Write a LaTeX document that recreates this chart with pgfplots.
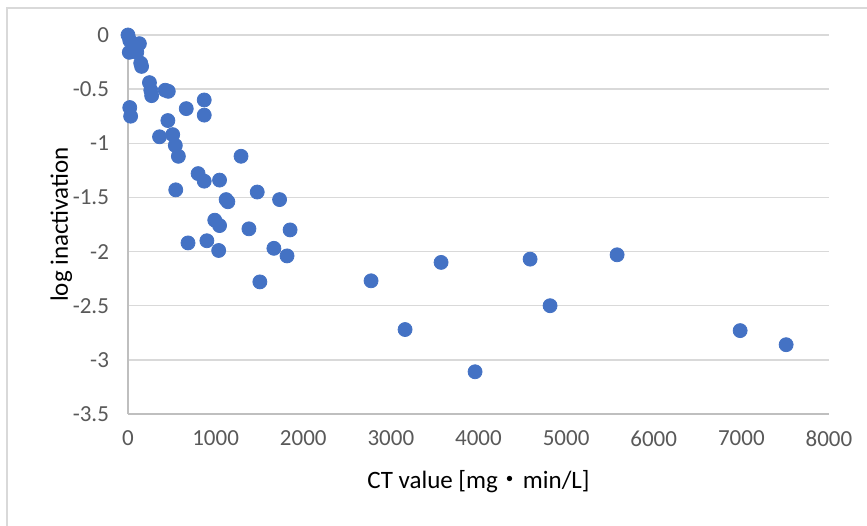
\documentclass[border=0pt]{standalone}
\usepackage{fontspec}
\setmainfont{Carlito}
\newfontfamily\cjk{Noto Sans CJK JP}
\usepackage{pgfplots}
\pgfplotsset{compat=1.18}
\definecolor{dot}{HTML}{4472C4}
\definecolor{grd}{HTML}{D9D9D9}
\definecolor{axl}{HTML}{BFBFBF}
\definecolor{txt}{HTML}{595959}
\newcommand{\tickfont}{\fontsize{11.5pt}{13pt}\selectfont}
\newcommand{\labfont}{\fontsize{12.5pt}{15pt}\selectfont}

\begin{document}
\tickfont
\begin{tikzpicture}
\begin{axis}[
    scale only axis,
    width=350.5pt, height=189.5pt,
    xmin=0, xmax=8000, ymin=-3.5, ymax=0,
    xtick={0,1000,...,8000},
    ytick={-3.5,-3,...,0},
    axis lines*=left,
    axis line style={axl, line width=0.7pt},
    ymajorgrids,
    grid style={grd, line width=0.7pt},
    major tick length=0pt,
    tick label style={text=txt},
    xticklabel={\tickfont\pgfmathprintnumber{\tick}},
    yticklabel={\tickfont\pgfmathprintnumber{\tick}},
    yticklabel style={xshift=-5.5pt},
    xticklabel style={yshift=-4.5pt},
    /pgf/number format/assume math mode=true,
    /pgf/number format/set thousands separator={},
    label style={text=txt},
    xlabel={\labfont CT value [mg{\cjk ・}min/L]},
    ylabel={\labfont log inactivation},
    every axis x label/.style={at={(axis description cs:0.5,-0.179)}, anchor=center},
    every axis y label/.style={at={(axis description cs:-0.095,0.5)}, rotate=90, anchor=center},
    clip=false,
]
\addplot[only marks, mark=*, mark size=3.5pt, mark options={fill=dot, draw=dot}]
coordinates {
    (0,0) (20,-0.05) (130,-0.08) (60,-0.09) (15,-0.16) (100,-0.16)
    (145,-0.26) (155,-0.29) (245,-0.44) (260,-0.51) (270,-0.56)
    (425,-0.51) (460,-0.52) (870,-0.60) (665,-0.68) (870,-0.74)
    (20,-0.67) (30,-0.75) (455,-0.79) (360,-0.94) (510,-0.92)
    (540,-1.02) (575,-1.12) (1290,-1.12)
    (800,-1.28) (870,-1.35) (1045,-1.34) (545,-1.43) (1475,-1.45)
    (1730,-1.52) (1120,-1.52) (1140,-1.54) (990,-1.71) (1045,-1.76)
    (1380,-1.79) (1850,-1.80) (685,-1.92) (900,-1.90) (1035,-1.99)
    (1665,-1.97) (1815,-2.04) (1505,-2.28)
    (2774,-2.27) (3162,-2.72) (3573,-2.10) (3961,-3.11) (4589,-2.07)
    (4817,-2.50) (5582,-2.03) (6986,-2.73) (7511,-2.86)
};
\coordinate (O) at (rel axis cs:0,0);
\end{axis}
\draw[grd, line width=0.9pt] (O) ++(-60.5pt,-56pt) -- ++(0,259pt) -- ++(435pt,0);
\pgfresetboundingbox
\path (O) ++(-64pt,-55.5pt) rectangle ++(433.5pt,262.5pt);
\end{tikzpicture}
\end{document}
